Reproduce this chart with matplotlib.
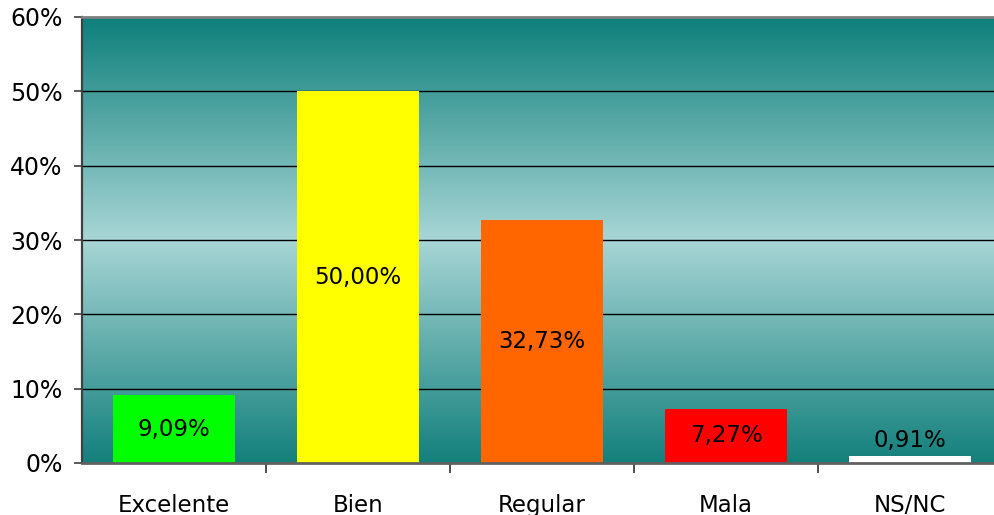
import numpy as np
import matplotlib
matplotlib.use('Agg')
import matplotlib.pyplot as plt
from matplotlib.colors import LinearSegmentedColormap

categories = ['Excelente', 'Bien', 'Regular', 'Mala', 'NS/NC']
values = [9.09, 50.00, 32.73, 7.27, 0.91]
labels = ['9,09%', '50,00%', '32,73%', '7,27%', '0,91%']
colors = ['#00ff00', '#ffff00', '#ff6600', '#ff0000', '#ffffff']
yticks = [0, 10, 20, 30, 40, 50, 60]

plt.rcParams['font.family'] = ['DejaVu Sans']

fig = plt.figure(figsize=(9.94, 5.15), dpi=100)
# plot area runs past the right edge of the picture, as in the original
ax = fig.add_axes([82 / 994, (515 - 463) / 515, 920 / 994, 446 / 515])

x = np.arange(len(categories))
ax.set_xlim(-0.5, len(categories) - 0.5)
ax.set_ylim(0, 60)

# background gradient: teal at top and bottom, pale in the middle
cmap = LinearSegmentedColormap.from_list(
    'bg', [(0.0, '#13807c'), (0.5, '#a8d6d6'), (1.0, '#0d7f7a')])
grad = np.linspace(0, 1, 256).reshape(-1, 1)
ax.imshow(grad, cmap=cmap, aspect='auto', extent=[-0.5, 4.5, 0, 60],
          origin='lower', zorder=0)

for y in yticks[1:-1]:
    ax.axhline(y, color='black', lw=1, zorder=1)

ax.bar(x, values, width=0.66, color=colors, zorder=2)

for i in range(len(values)):
    if values[i] > 5:
        ax.text(x[i], values[i] / 2, labels[i], ha='center', va='center',
                fontsize=16.5, zorder=3)
    else:
        ax.annotate(labels[i], (x[i], values[i]), xytext=(0, 3),
                    textcoords='offset points', ha='center', va='bottom',
                    fontsize=16.5, zorder=3)

ax.set_yticks(yticks)
ax.set_yticklabels([str(t) + '%' for t in yticks], fontsize=17)
ax.set_xticks(x)
ax.set_xticklabels(categories, fontsize=16.5)
ax.set_xticks(np.arange(len(categories) - 1) + 0.5, minor=True)

ax.tick_params(axis='y', direction='out', length=6, width=1.2,
               color='#404040', pad=8)
ax.tick_params(axis='x', which='major', length=0, pad=22)
ax.tick_params(axis='x', which='minor', length=7, width=1.2,
               color='#303030')

ax.spines['top'].set_color('#808080')
ax.spines['top'].set_linewidth(2)
ax.spines['left'].set_color('#404040')
ax.spines['left'].set_linewidth(1.6)
ax.spines['bottom'].set_color('#606060')
ax.spines['bottom'].set_linewidth(2)
ax.spines['right'].set_visible(False)

fig.savefig('out.png', dpi=100)
